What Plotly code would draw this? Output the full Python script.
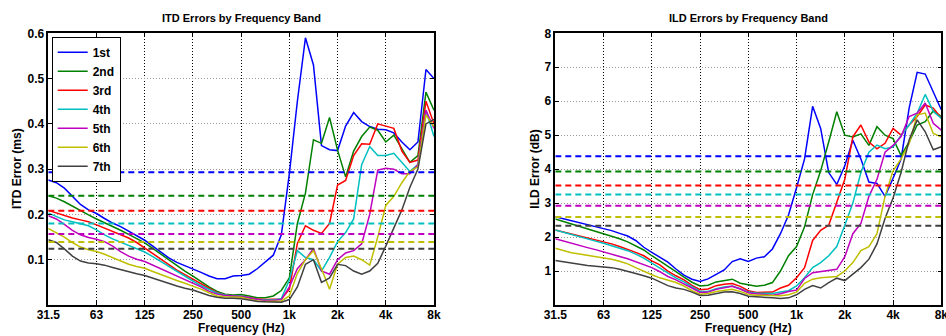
import plotly.graph_objects as go

# ---------------- data ----------------
freq_hz = [31.25, 35.08, 39.37, 44.19, 49.61, 55.68, 62.5, 70.15, 78.75, 88.39,
           99.21, 111.4, 125, 140.3, 157.5, 176.8, 198.4, 222.7, 250, 280.6,
           315, 353.6, 396.9, 445.4, 500, 561.2, 630, 707.1, 793.7, 890.9,
           1000, 1122, 1260, 1414, 1587, 1782, 2000, 2245, 2520, 2828,
           3175, 3564, 4000, 4490, 5040, 5657, 6350, 7127, 8000]

band_names = ["1st", "2nd", "3rd", "4th", "5th", "6th", "7th"]
band_colors = ["#0000FF", "#008000", "#FF0000", "#00BFBF", "#BF00BF", "#BFBF00", "#404040"]

tick_vals = [31.25, 62.5, 125, 250, 500, 1000, 2000, 4000, 8000]
tick_text = ["31.5", "63", "125", "250", "500", "1k", "2k", "4k", "8k"]

itd_1st = [0.276, 0.270, 0.258, 0.240, 0.222, 0.210, 0.202, 0.191, 0.181, 0.173,
           0.163, 0.153, 0.143, 0.130, 0.117, 0.104, 0.094, 0.087, 0.080, 0.072,
           0.064, 0.058, 0.058, 0.064, 0.065, 0.068, 0.080, 0.095, 0.110, 0.155,
           0.290, 0.450, 0.590, 0.530, 0.352, 0.343, 0.341, 0.395, 0.425, 0.405,
           0.394, 0.388, 0.387, 0.380, 0.360, 0.343, 0.360, 0.520, 0.500]
itd_2nd = [0.241, 0.236, 0.228, 0.218, 0.208, 0.199, 0.190, 0.182, 0.173, 0.165,
           0.156, 0.147, 0.137, 0.125, 0.112, 0.099, 0.087, 0.075, 0.064, 0.052,
           0.040, 0.030, 0.024, 0.022, 0.023, 0.020, 0.016, 0.016, 0.020, 0.032,
           0.060, 0.180, 0.247, 0.365, 0.357, 0.414, 0.342, 0.283, 0.340, 0.372,
           0.393, 0.386, 0.360, 0.375, 0.345, 0.315, 0.330, 0.470, 0.430]
itd_3rd = [0.209, 0.203, 0.197, 0.192, 0.188, 0.184, 0.177, 0.170, 0.163, 0.156,
           0.148, 0.138, 0.126, 0.113, 0.100, 0.088, 0.077, 0.067, 0.057, 0.046,
           0.036, 0.027, 0.022, 0.020, 0.020, 0.017, 0.013, 0.012, 0.012, 0.013,
           0.035, 0.136, 0.175, 0.165, 0.158, 0.180, 0.265, 0.275, 0.330, 0.356,
           0.355, 0.400, 0.395, 0.390, 0.340, 0.315, 0.320, 0.450, 0.400]
itd_4th = [0.203, 0.195, 0.188, 0.184, 0.180, 0.175, 0.166, 0.155, 0.146, 0.139,
           0.132, 0.125, 0.117, 0.107, 0.096, 0.085, 0.074, 0.063, 0.053, 0.043,
           0.034, 0.026, 0.022, 0.020, 0.020, 0.016, 0.012, 0.011, 0.011, 0.014,
           0.055, 0.120, 0.105, 0.100, 0.075, 0.105, 0.140, 0.160, 0.190, 0.310,
           0.350, 0.330, 0.330, 0.335, 0.315, 0.295, 0.310, 0.430, 0.372]
itd_5th = [0.197, 0.190, 0.178, 0.165, 0.155, 0.149, 0.145, 0.140, 0.130, 0.118,
           0.108, 0.101, 0.096, 0.088, 0.080, 0.072, 0.065, 0.057, 0.049, 0.040,
           0.030, 0.024, 0.021, 0.020, 0.019, 0.016, 0.012, 0.010, 0.010, 0.012,
           0.040, 0.080, 0.100, 0.125, 0.075, 0.068, 0.100, 0.115, 0.120, 0.135,
           0.200, 0.298, 0.302, 0.300, 0.290, 0.290, 0.310, 0.430, 0.390]
itd_6th = [0.169, 0.160, 0.150, 0.138, 0.128, 0.122, 0.118, 0.112, 0.105, 0.097,
           0.090, 0.085, 0.081, 0.074, 0.067, 0.060, 0.054, 0.048, 0.042, 0.035,
           0.027, 0.020, 0.018, 0.017, 0.017, 0.013, 0.009, 0.008, 0.008, 0.009,
           0.020, 0.070, 0.100, 0.120, 0.080, 0.035, 0.090, 0.105, 0.108, 0.100,
           0.088, 0.150, 0.220, 0.240, 0.270, 0.295, 0.305, 0.420, 0.394]
itd_7th = [0.144, 0.138, 0.124, 0.108, 0.097, 0.093, 0.091, 0.088, 0.083, 0.078,
           0.073, 0.069, 0.065, 0.059, 0.053, 0.047, 0.042, 0.037, 0.033, 0.027,
           0.021, 0.017, 0.015, 0.015, 0.014, 0.011, 0.008, 0.007, 0.006, 0.006,
           0.012, 0.040, 0.090, 0.100, 0.050, 0.060, 0.090, 0.087, 0.075, 0.068,
           0.075, 0.092, 0.130, 0.170, 0.210, 0.260, 0.300, 0.400, 0.410]
itd_means = [0.293, 0.241, 0.208, 0.180, 0.157, 0.139, 0.124]

ild_1st = [2.60, 2.54, 2.49, 2.43, 2.37, 2.32, 2.26, 2.19, 2.11, 2.03,
           1.90, 1.70, 1.55, 1.40, 1.26, 1.06, 0.88, 0.76, 0.69, 0.77,
           0.90, 1.03, 1.28, 1.36, 1.28, 1.38, 1.42, 1.65, 2.10, 2.65,
           3.45, 4.30, 5.85, 5.20, 3.90, 3.55, 4.10, 4.85, 4.30, 3.62,
           3.58, 3.20, 3.73, 4.30, 5.80, 6.85, 6.80, 6.25, 5.75]
ild_2nd = [2.53, 2.46, 2.38, 2.30, 2.23, 2.17, 2.10, 2.03, 1.95, 1.86,
           1.75, 1.62, 1.45, 1.30, 1.15, 0.98, 0.82, 0.67, 0.56, 0.58,
           0.68, 0.73, 0.76, 0.64, 0.59, 0.55, 0.58, 0.66, 1.00, 1.45,
           1.72, 2.30, 3.25, 3.95, 4.80, 5.69, 5.00, 4.95, 5.04, 4.70,
           5.25, 5.00, 4.90, 4.40, 4.80, 5.30, 5.40, 5.72, 5.55]
ild_3rd = [2.21, 2.15, 2.09, 2.03, 1.97, 1.92, 1.87, 1.80, 1.72, 1.64,
           1.55, 1.45, 1.30, 1.18, 1.00, 0.86, 0.74, 0.58, 0.45, 0.47,
           0.57, 0.61, 0.63, 0.55, 0.42, 0.37, 0.38, 0.38, 0.50, 0.58,
           0.80, 1.10, 1.90, 2.20, 2.35, 3.05, 3.70, 4.95, 5.30, 4.80,
           4.60, 4.76, 5.20, 5.00, 5.30, 5.55, 5.89, 5.80, 5.50]
ild_4th = [2.21, 2.14, 2.07, 2.00, 1.94, 1.88, 1.82, 1.75, 1.68, 1.60,
           1.50, 1.38, 1.23, 1.08, 0.93, 0.80, 0.68, 0.53, 0.40, 0.40,
           0.48, 0.53, 0.56, 0.48, 0.38, 0.35, 0.34, 0.34, 0.38, 0.42,
           0.56, 0.80, 1.10, 1.25, 1.45, 1.72, 2.35, 3.00, 3.90, 4.50,
           4.71, 4.60, 4.65, 5.00, 5.30, 5.65, 6.20, 5.70, 5.50]
ild_5th = [1.95, 1.88, 1.81, 1.75, 1.69, 1.63, 1.57, 1.50, 1.43, 1.36,
           1.28, 1.19, 1.10, 0.98, 0.84, 0.74, 0.63, 0.50, 0.37, 0.38,
           0.46, 0.50, 0.55, 0.47, 0.36, 0.33, 0.31, 0.29, 0.33, 0.40,
           0.44, 0.78, 0.95, 0.98, 1.00, 1.05, 1.42, 2.10, 2.40, 3.20,
           3.70, 4.50, 4.70, 4.96, 5.55, 5.65, 5.95, 5.35, 5.15]
ild_6th = [1.67, 1.60, 1.54, 1.50, 1.46, 1.43, 1.40, 1.35, 1.29, 1.21,
           1.10, 0.99, 0.89, 0.80, 0.74, 0.66, 0.56, 0.42, 0.32, 0.34,
           0.40, 0.44, 0.46, 0.40, 0.31, 0.29, 0.28, 0.27, 0.27, 0.30,
           0.38, 0.64, 0.76, 0.80, 0.83, 0.84, 1.00, 1.25, 1.60, 1.72,
           2.10, 3.20, 3.95, 4.30, 4.75, 5.60, 5.65, 5.05, 4.95]
ild_7th = [1.31, 1.27, 1.23, 1.19, 1.16, 1.14, 1.13, 1.10, 1.05, 1.00,
           0.93, 0.86, 0.79, 0.68, 0.57, 0.50, 0.46, 0.38, 0.28, 0.29,
           0.34, 0.38, 0.39, 0.34, 0.26, 0.25, 0.24, 0.21, 0.19, 0.21,
           0.30, 0.46, 0.57, 0.50, 0.66, 0.79, 0.72, 0.90, 1.10, 1.35,
           1.80, 2.55, 3.15, 3.90, 4.86, 5.45, 5.10, 4.57, 4.66]
ild_means = [4.38, 3.93, 3.52, 3.25, 2.92, 2.59, 2.33]

itd_series = [itd_1st, itd_2nd, itd_3rd, itd_4th, itd_5th, itd_6th, itd_7th]
ild_series = [ild_1st, ild_2nd, ild_3rd, ild_4th, ild_5th, ild_6th, ild_7th]

# ---------------- figure ----------------
FONT = "Liberation Sans, Arial, Helvetica, sans-serif"
W, H = 946, 336

fig = go.Figure()

for i in range(7):
    fig.add_trace(go.Scatter(x=freq_hz, y=itd_series[i], mode="lines", name=band_names[i],
                             line=dict(color=band_colors[i], width=1.5),
                             xaxis="x", yaxis="y", showlegend=True))
for i in range(7):
    fig.add_trace(go.Scatter(x=freq_hz, y=ild_series[i], mode="lines", name=band_names[i],
                             line=dict(color=band_colors[i], width=1.5),
                             xaxis="x2", yaxis="y2", showlegend=False))
for i in range(7):
    fig.add_trace(go.Scatter(x=[freq_hz[0], freq_hz[-1]], y=[itd_means[i]] * 2, mode="lines",
                             line=dict(color=band_colors[i], width=2, dash="6px,4px"),
                             xaxis="x", yaxis="y", showlegend=False, hoverinfo="skip"))
    fig.add_trace(go.Scatter(x=[freq_hz[0], freq_hz[-1]], y=[ild_means[i]] * 2, mode="lines",
                             line=dict(color=band_colors[i], width=2, dash="6px,4px"),
                             xaxis="x2", yaxis="y2", showlegend=False, hoverinfo="skip"))

ydom = [1 - 305 / H, 1 - 33.3 / H]
tickfont = dict(family=FONT, size=12, color="black", weight="bold")

xcommon = dict(type="log", range=[1.49485, 3.90309], tickvals=tick_vals, ticktext=tick_text,
               tickfont=tickfont, showgrid=True, gridcolor="black", gridwidth=1,
               griddash="1px,2px", showline=True, linecolor="black", linewidth=1.5,
               mirror="ticks", ticks="inside", ticklen=4, tickcolor="black", zeroline=False,
               automargin=False, ticklabelstandoff=-2, ticklabeloverflow="allow")
ycommon = dict(tickfont=tickfont, showgrid=True, gridcolor="#9a9a9a", gridwidth=1,
               griddash="1px,2px", showline=True, linecolor="black", linewidth=1.5,
               mirror="ticks", ticks="inside", ticklen=4, tickcolor="black", zeroline=False,
               automargin=False)


def ann(text, xpx, ypx, size, angle=0):
    return dict(text="<b>%s</b>" % text, x=xpx / W, y=1 - ypx / H, xref="paper", yref="paper",
                xanchor="center", yanchor="middle", showarrow=False, textangle=angle,
                font=dict(family=FONT, size=size, color="black"))


fig.update_layout(
    width=W, height=H,
    margin=dict(l=0, r=0, t=0, b=0, autoexpand=False),
    paper_bgcolor="white", plot_bgcolor="white",
    xaxis=dict(domain=[48.3 / W, 434 / W], anchor="y", **xcommon),
    yaxis=dict(domain=ydom, anchor="x", range=[0, 0.6],
               tickvals=[0.1, 0.2, 0.3, 0.4, 0.5, 0.6],
               ticktext=["0.1", "0.2", "0.3", "0.4", "0.5", "0.6"], **ycommon),
    xaxis2=dict(domain=[555.3 / W, 941.3 / W], anchor="y2", **xcommon),
    yaxis2=dict(domain=ydom, anchor="x2", range=[0, 8],
                tickvals=[1, 2, 3, 4, 5, 6, 7, 8], **ycommon),
    showlegend=True,
    legend=dict(x=51.7 / W, y=1 - 36.7 / H, xanchor="left", yanchor="top",
                bgcolor="white", bordercolor="black", borderwidth=1,
                font=dict(family=FONT, size=12, color="black", weight="bold"),
                itemwidth=30, tracegroupgap=0),
    annotations=[
        ann("ITD Errors by Frequency Band", 241, 18.3, 11),
        ann("ILD Errors by Frequency Band", 748.3, 18.3, 11),
        ann("Frequency (Hz)", 241, 328, 12),
        ann("Frequency (Hz)", 748.3, 328, 12),
        ann("ITD Error (ms)", 17, 169, 12, -90),
        ann("ILD Error (dB)", 534.7, 169, 12, -90),
    ],
)

fig.write_html("out.html",
               config={"displayModeBar": False},
               post_script="document.body.style.margin='0px';"
                           "document.documentElement.style.overflow='hidden';")
